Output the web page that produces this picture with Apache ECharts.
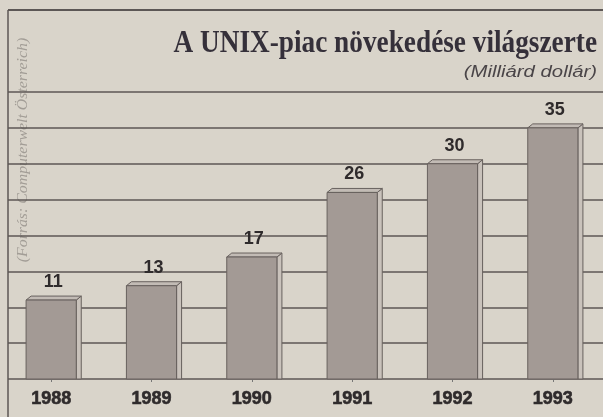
<!DOCTYPE html>
<html>
<head>
<meta charset="utf-8">
<script src="https://cdn.jsdelivr.net/npm/echarts@6/dist/echarts.min.js"></script>
<style>
  html, body { margin: 0; padding: 0; background: #d9d4ca; }
  #chart { width: 603px; height: 417px; }
</style>
</head>
<body>
<div id="chart"></div>
<script>
// data
const years = ['1988', '1989', '1990', '1991', '1992', '1993']
const values = [11, 13, 17, 26, 30, 35]
const yMin = 0
const yMax = 40
const yStep = 5

const title = 'A UNIX-piac növekedése világszerte'
const unit = '(Milliárd dollár)'
const source = '(Forrás: Computerwelt Österreich)'

const lineColor = '#5c5755'
const inkColor = '#2f2b2c'
const sans = "'Liberation Sans', Arial, sans-serif"

function renderBar(params, api) {
  const top = api.coord([api.value(0), api.value(1)])
  const base = api.coord([api.value(0), 0])
  const w = api.size([1, 0])[0] * 0.5
  const x0 = top[0] - w / 2
  const x1 = top[0] + w / 2
  const dx = 5
  const dy = 4
  const stroke = { stroke: '#68615e', lineWidth: 1 }
  return {
    type: 'group',
    children: [
      {
        type: 'polygon',
        shape: { points: [[x1, top[1]], [x1 + dx, top[1] - dy], [x1 + dx, base[1]], [x1, base[1]]] },
        style: Object.assign({ fill: '#c9c2bb' }, stroke)
      },
      {
        type: 'polygon',
        shape: { points: [[x0, top[1]], [x0 + dx, top[1] - dy], [x1 + dx, top[1] - dy], [x1, top[1]]] },
        style: Object.assign({ fill: '#c2bbb5' }, stroke)
      },
      {
        type: 'rect',
        shape: { x: x0, y: top[1], width: w, height: base[1] - top[1] },
        style: Object.assign({ fill: '#a39a95' }, stroke)
      },
      {
        type: 'text',
        style: {
          x: top[0] + 2,
          y: top[1] - dy - 5,
          text: String(api.value(1)),
          fill: inkColor,
          font: 'bold 18px ' + sans,
          textAlign: 'center',
          textVerticalAlign: 'bottom'
        }
      }
    ]
  }
}

const chart = echarts.init(document.getElementById('chart'))
chart.setOption({
  backgroundColor: '#d9d4ca',
  animation: false,
  grid: [
    { left: 1, width: 610, top: 92, height: 287 },
    { left: 8, right: 0, top: 92, height: 287 }
  ],
  xAxis: [
    {
      type: 'category',
      gridIndex: 0,
      data: years,
      axisLine: { show: false },
      axisTick: { show: true, alignWithLabel: true, length: 3, lineStyle: { color: '#777' } },
      axisLabel: {
        margin: 11,
        color: inkColor,
        textBorderColor: inkColor,
        textBorderWidth: 0.6,
        fontFamily: sans,
        fontWeight: 'bold',
        fontSize: 18
      }
    },
    { type: 'value', gridIndex: 1, show: false }
  ],
  yAxis: [
    { type: 'value', gridIndex: 0, min: yMin, max: yMax, show: false },
    {
      type: 'value',
      gridIndex: 1,
      min: yMin,
      max: yMax,
      interval: yStep,
      axisLine: { show: false },
      axisTick: { show: false },
      axisLabel: { show: false },
      splitLine: { show: true, lineStyle: { color: lineColor, width: 1.5 } }
    }
  ],
  series: [
    {
      type: 'custom',
      xAxisIndex: 0,
      yAxisIndex: 0,
      renderItem: renderBar,
      data: years.map((y, i) => [i, values[i]])
    }
  ],
  graphic: [
    { type: 'line', shape: { x1: 8, y1: 10, x2: 603, y2: 10 }, style: { stroke: lineColor, lineWidth: 2 } },
    { type: 'line', shape: { x1: 8, y1: 10, x2: 8, y2: 417 }, style: { stroke: lineColor, lineWidth: 1.5 } },
    {
      type: 'text',
      x: 597,
      y: 59,
      scaleX: 0.88,
      style: {
        text: title,
        fill: '#35303a',
        font: "bold 31px 'Liberation Serif', 'DejaVu Serif', serif",
        textAlign: 'right',
        textVerticalAlign: 'bottom'
      }
    },
    {
      type: 'text',
      x: 597,
      y: 73,
      scaleX: 1.27,
      style: {
        text: unit,
        fill: '#4a4548',
        font: 'italic 16px ' + sans,
        textAlign: 'right',
        textVerticalAlign: 'middle'
      }
    },
    {
      type: 'text',
      x: 23,
      y: 150,
      rotation: Math.PI / 2,
      scaleX: 1.13,
      style: {
        text: source,
        fill: '#a29d96',
        font: "italic 14px 'Liberation Serif', 'DejaVu Serif', serif",
        textAlign: 'center',
        textVerticalAlign: 'middle'
      }
    }
  ]
})
</script>
</body>
</html>
